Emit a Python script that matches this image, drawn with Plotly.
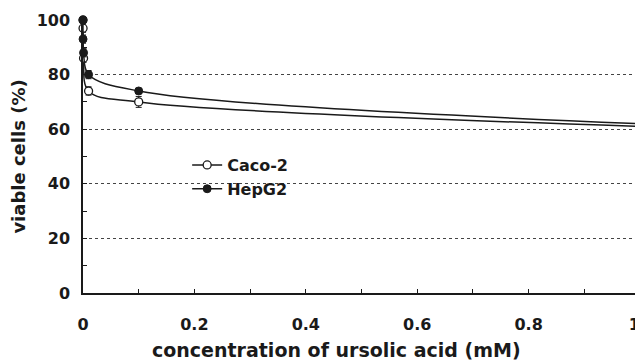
import plotly.graph_objects as go

conc = [0, 0.0001, 0.001, 0.01, 0.1, 1]
caco2 = [100, 97, 86, 74, 70, 61]
caco2_err = [1, 1.5, 1.5, 1.5, 2, 1]
hepg2 = [100, 93, 88, 80, 74, 62]
hepg2_err = [1, 1.5, 1.5, 1.5, 1, 1]
x_ticks = [0, 0.2, 0.4, 0.6, 0.8, 1]
x_labels = ["0", "0.2", "0.4", "0.6", "0.8", "1\u00a0\u00a0"]
y_ticks = [0, 20, 40, 60, 80, 100]

FONT = "DejaVu Sans"
INK = "#1a1a1a"

fig = go.Figure()
fig.add_trace(go.Scatter(
    x=conc, y=caco2, name="Caco-2", mode="lines+markers",
    line=dict(color=INK, width=1.5, shape="spline", smoothing=1.0),
    marker=dict(symbol="circle", size=8, color="white", line=dict(color=INK, width=1.3)),
    error_y=dict(type="data", array=caco2_err, color=INK, thickness=1, width=3),
    cliponaxis=False,
))
fig.add_trace(go.Scatter(
    x=conc, y=hepg2, name="HepG2", mode="lines+markers",
    line=dict(color=INK, width=1.5, shape="spline", smoothing=1.0),
    marker=dict(symbol="circle", size=8, color=INK, line=dict(color=INK, width=1)),
    error_y=dict(type="data", array=hepg2_err, color=INK, thickness=1, width=3),
    cliponaxis=False,
))

# page has an 8px body margin, so the figure is sized to fit the rest of the window
fig.update_layout(
    width=635, height=353,
    margin=dict(l=75, r=3, t=12, b=68),
    paper_bgcolor="white", plot_bgcolor="white",
    font=dict(family=FONT, size=16, color=INK, weight="bold"),
    showlegend=True,
    legend=dict(x=0.187, y=0.531, xanchor="left", yanchor="top",
                bgcolor="rgba(0,0,0,0)", font=dict(size=16, weight="bold"),
                itemwidth=30, tracegroupgap=0),
    xaxis=dict(
        range=[0, 1], tickvals=x_ticks, ticktext=x_labels,
        showline=True, linecolor=INK, linewidth=1.5,
        ticks="inside", ticklen=4, tickcolor=INK,
        minor=dict(dtick=0.1, ticks="inside", ticklen=4, tickcolor=INK),
        showgrid=False, zeroline=False, automargin=False,
        ticklabelstandoff=16, ticklabeloverflow="allow",
    ),
    yaxis=dict(
        range=[0, 100], tickvals=y_ticks,
        showline=True, linecolor=INK, linewidth=1.5,
        ticks="inside", ticklen=4, tickcolor=INK,
        minor=dict(dtick=10, ticks="inside", ticklen=4, tickcolor=INK),
        showgrid=True, gridcolor="#444", gridwidth=1, griddash="dot",
        zeroline=False, automargin=False,
        ticklabelstandoff=8,
        title=dict(text="viable cells (%)", standoff=12,
                   font=dict(size=18, weight="bold")),
    ),
    annotations=[dict(
        text="concentration of ursolic acid (mM)",
        xref="paper", yref="paper", x=0.456, y=-0.207,
        xanchor="center", yanchor="middle", showarrow=False,
        font=dict(size=19, weight="bold", color=INK),
    )],
)

fig.write_html("out.html")
